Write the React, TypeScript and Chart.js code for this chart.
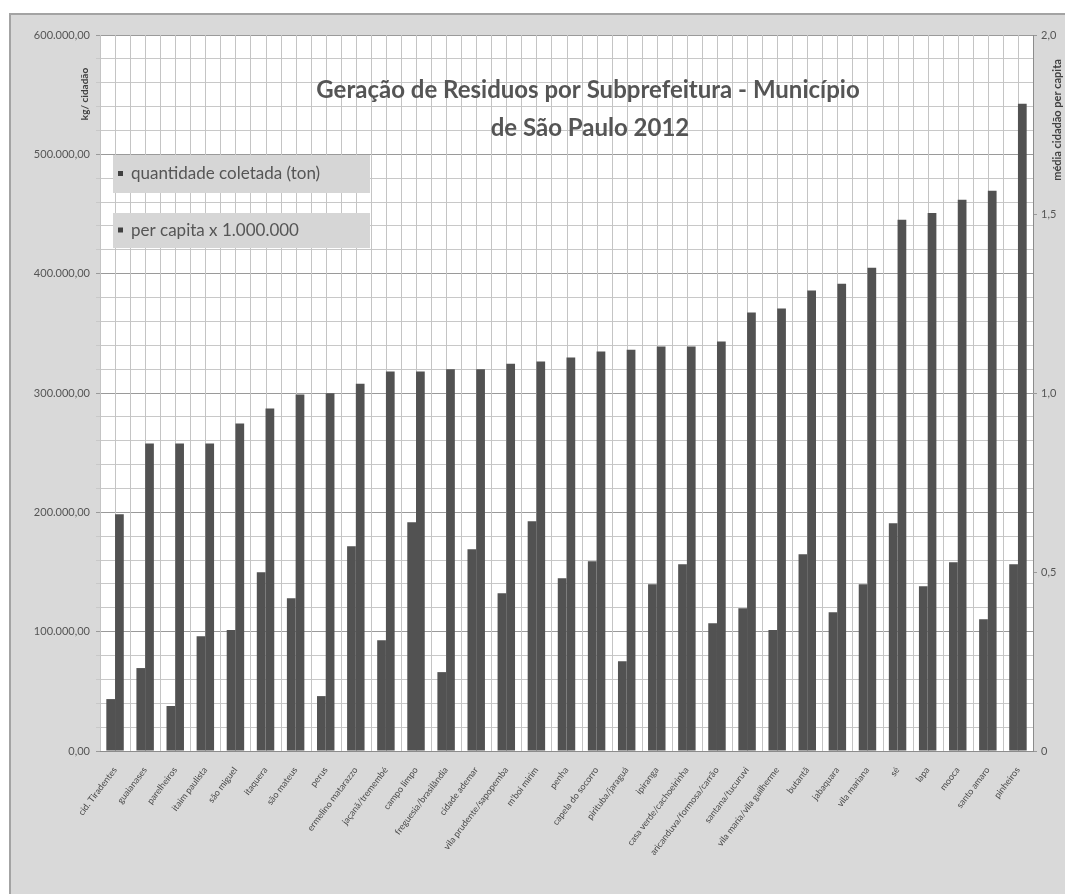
import React, { useEffect, useRef } from "react";
import { Chart, registerables } from "chart.js";

Chart.register(...registerables);

// Subprefeituras, ordered by per capita generation
const subprefeituras = [
  "cid. Tiradentes",
  "guaianases",
  "parelheiros",
  "itaim paulista",
  "são miguel",
  "itaquera",
  "são mateus",
  "perus",
  "ermelino matarazzo",
  "jaçanã/tremembé",
  "campo limpo",
  "freguesia/brasilândia",
  "cidade ademar",
  "vila prudente/sapopemba",
  "m'boi mirim",
  "penha",
  "capela do socorro",
  "pirituba/jaraguá",
  "ipiranga",
  "casa verde/cachoeirinha",
  "aricanduva/formosa/carrão",
  "santana/tucuruvi",
  "vila maria/vila guilherme",
  "butantã",
  "jabaquara",
  "vila mariana",
  "sé",
  "lapa",
  "mooca",
  "santo amaro",
  "pinheiros",
];

// Quantidade coletada (ton) — left axis
const quantidadeColetada = [
  43500, 69500, 37700, 96200, 101300, 149800, 128000, 46000, 171500, 92900,
  191600, 66100, 169000, 132200, 192500, 144800, 159000, 75300, 139700, 156500,
  107100, 119700, 101300, 164900, 116300, 139700, 190800, 138100, 158200, 110500,
  156500,
];

// Média per capita — right axis
const perCapita = [
  0.661, 0.859, 0.859, 0.859, 0.915, 0.957, 0.996, 0.999, 1.026, 1.06,
  1.06, 1.066, 1.066, 1.082, 1.088, 1.099, 1.116, 1.121, 1.13, 1.13,
  1.144, 1.225, 1.236, 1.286, 1.305, 1.35, 1.484, 1.503, 1.54, 1.565,
  1.808,
];

const seriesNames = ["quantidade coletada (ton)", "per capita x 1.000.000"];
const titleLines = ["Geração de Residuos por Subprefeitura - Município", "de São Paulo 2012"];
const leftAxisTitle = "kg/ cidadão";
const rightAxisTitle = "média cidadão per capita";

const FONT = "Lato, 'Open Sans', sans-serif";
const BAR = "#525252";

const fmtBR = (v: number) =>
  Math.round(v).toString().replace(/\B(?=(\d{3})+(?!\d))/g, ".") + ",00";

const fmtRight = (v: number) => (v === 0 ? "0" : v.toFixed(1).replace(".", ","));

const framePlugin = {
  id: "frame",
  beforeDraw(chart: any) {
    const { ctx, width, height, chartArea: a } = chart;
    ctx.save();
    ctx.fillStyle = "#ffffff";
    ctx.fillRect(0, 0, width, height);
    ctx.fillStyle = "#d9d9d9";
    ctx.fillRect(10, 14, width - 10, height - 14);
    ctx.strokeStyle = "#a3a3a3";
    ctx.lineWidth = 2;
    ctx.beginPath();
    ctx.moveTo(10, height);
    ctx.lineTo(10, 14);
    ctx.lineTo(width, 14);
    ctx.stroke();
    ctx.fillStyle = "#ffffff";
    ctx.fillRect(a.left, a.top, a.right - a.left, a.bottom - a.top);
    ctx.restore();
  },
  beforeDatasetsDraw(chart: any) {
    // vertical grid: category boundaries and centres
    const { ctx, chartArea: a } = chart;
    const x = chart.scales.x;
    const n = chart.data.labels.length;
    const half = (x.getPixelForValue(1) - x.getPixelForValue(0)) / 2;
    ctx.save();
    ctx.strokeStyle = "#c4c4c4";
    ctx.lineWidth = 1;
    ctx.beginPath();
    for (let i = 0; i < n; i++) {
      const c = x.getPixelForValue(i);
      for (const px of [c - half, c]) {
        const p = Math.round(px) + 0.5;
        ctx.moveTo(p, a.top);
        ctx.lineTo(p, a.bottom);
      }
    }
    ctx.stroke();
    ctx.restore();
  },
  afterDatasetsDraw(chart: any) {
    const { ctx } = chart;
    ctx.save();
    // title inside the plot area
    ctx.fillStyle = "#555555";
    ctx.textAlign = "center";
    ctx.textBaseline = "alphabetic";
    ctx.font = `bold 24px ${FONT}`;
    ctx.fillText(titleLines[0], 588, 98);
    ctx.fillText(titleLines[1], 590, 136);

    // legend boxes
    const boxes = [
      { y: 155, h: 38 },
      { y: 213, h: 35 },
    ];
    ctx.font = `17px ${FONT}`;
    ctx.textAlign = "left";
    ctx.textBaseline = "middle";
    boxes.forEach((b, i) => {
      ctx.fillStyle = "#d6d6d6";
      ctx.fillRect(113, b.y, 257, b.h);
      ctx.fillStyle = "#404040";
      ctx.fillRect(118, b.y + b.h / 2 - 3, 5, 5);
      ctx.fillStyle = "#555555";
      ctx.fillText(seriesNames[i], 131, b.y + b.h / 2);
    });

    // axis titles
    ctx.fillStyle = "#404040";
    ctx.textAlign = "center";
    ctx.font = `bold 10px ${FONT}`;
    ctx.save();
    ctx.translate(85, 94);
    ctx.rotate(-Math.PI / 2);
    ctx.fillText(leftAxisTitle, 0, 0);
    ctx.restore();
    ctx.font = `bold 11px ${FONT}`;
    ctx.save();
    ctx.translate(1057, 120);
    ctx.rotate(-Math.PI / 2);
    ctx.fillText(rightAxisTitle, 0, 0);
    ctx.restore();
    ctx.restore();
  },
};

export default function App() {
  const ref = useRef<HTMLCanvasElement | null>(null);

  useEffect(() => {
    if (!ref.current) return;
    const chart = new Chart(ref.current, {
      type: "bar",
      data: {
        labels: subprefeituras,
        datasets: [
          {
            label: seriesNames[0],
            data: quantidadeColetada,
            yAxisID: "y",
            backgroundColor: BAR,
            categoryPercentage: 0.58,
            barPercentage: 1,
          },
          {
            label: seriesNames[1],
            data: perCapita,
            yAxisID: "y2",
            backgroundColor: BAR,
            categoryPercentage: 0.58,
            barPercentage: 1,
          },
        ],
      },
      options: {
        responsive: false,
        animation: false,
        devicePixelRatio: 1,
        layout: { padding: { left: 10, top: 35, right: 0, bottom: 0 } },
        plugins: {
          legend: { display: false },
          title: { display: false },
          tooltip: { enabled: false },
        },
        scales: {
          x: {
            grid: { display: false },
            border: { color: "#8c8c8c" },
            ticks: {
              autoSkip: false,
              minRotation: 53,
              maxRotation: 53,
              color: "#4a4a4a",
              padding: 6,
              font: { family: FONT, size: 9 },
            },
            afterFit: (s: any) => {
              s.height = 143;
            },
          },
          y: {
            position: "left",
            min: 0,
            max: 600000,
            border: { color: "#8c8c8c" },
            grid: {
              color: (c: any) => (c.tick && c.tick.value % 100000 === 0 ? "#9a9a9a" : "#c8c8c8"),
              tickLength: 4,
            },
            ticks: {
              stepSize: 20000,
              autoSkip: false,
              color: "#555555",
              font: { family: FONT, size: 11 },
              padding: 6,
              callback: (v: any) => (Number(v) % 100000 === 0 ? fmtBR(Number(v)) : ""),
            },
            afterFit: (s: any) => {
              s.width = 90;
            },
          },
          y2: {
            position: "right",
            min: 0,
            max: 2,
            border: { color: "#8c8c8c" },
            grid: { drawOnChartArea: false, tickLength: 4, color: "#9a9a9a" },
            ticks: {
              stepSize: 0.5,
              color: "#555555",
              font: { family: FONT, size: 11 },
              padding: 4,
              callback: (v: any) => fmtRight(Number(v)),
            },
            afterFit: (s: any) => {
              s.width = 32;
            },
          },
        },
      },
      plugins: [framePlugin],
    });
    return () => chart.destroy();
  }, []);

  return (
    <div style={{ position: "absolute", left: 0, top: 0, width: 1065, height: 894 }}>
      <canvas ref={ref} width={1065} height={894} style={{ display: "block" }} />
    </div>
  );
}
